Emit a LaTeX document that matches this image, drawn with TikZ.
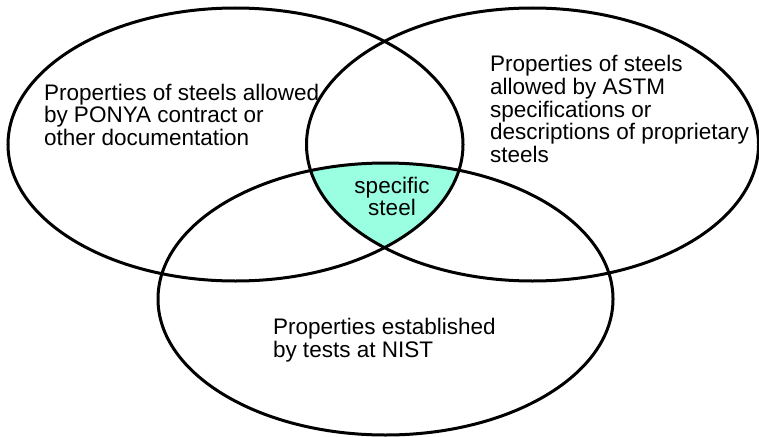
\documentclass[tikz,border=0pt]{standalone}
\usepackage{fontspec}
\setmainfont{Liberation Sans}
\definecolor{vennfill}{RGB}{153,255,224}
\begin{document}
\begin{tikzpicture}[x=1pt,y=-1pt,
  ring/.style={draw=black,line width=3pt},
  lbl/.style={inner sep=0pt,outer sep=0pt,align=left,anchor=base west,
    font=\fontsize{22.5pt}{22.7pt}\selectfont},
  clbl/.style={inner sep=0pt,outer sep=0pt,align=center,anchor=base,
    font=\fontsize{22.5pt}{22.7pt}\selectfont}]
\useasboundingbox (0,0) rectangle (759,436);
\begin{scope}
  \clip (235.5,144.5) ellipse [x radius=227.5pt, y radius=136.5pt];
  \clip (532.5,144.5) ellipse [x radius=226pt, y radius=136.5pt];
  \fill[vennfill] (385.5,299) ellipse [x radius=227.5pt, y radius=136pt];
\end{scope}
\draw[ring] (235.5,144.5) ellipse [x radius=227.5pt, y radius=136.5pt];
\draw[ring] (532.5,144.5) ellipse [x radius=226pt, y radius=136.5pt];
\draw[ring] (385.5,299) ellipse [x radius=227.5pt, y radius=136pt];
\node[lbl] (left) at (44,145.4) {Properties of steels allowed\\by PONYA contract or\\other documentation};
\node[lbl] (right) at (490,162.5) {Properties of steels\\allowed by ASTM\\specifications or\\descriptions of proprietary\\steels};
\node[lbl] (bottom) at (273,357.4) {Properties established\\by tests at NIST};
\node[clbl] (center) at (392,215.8) {specific\\steel};
\end{tikzpicture}
\end{document}
